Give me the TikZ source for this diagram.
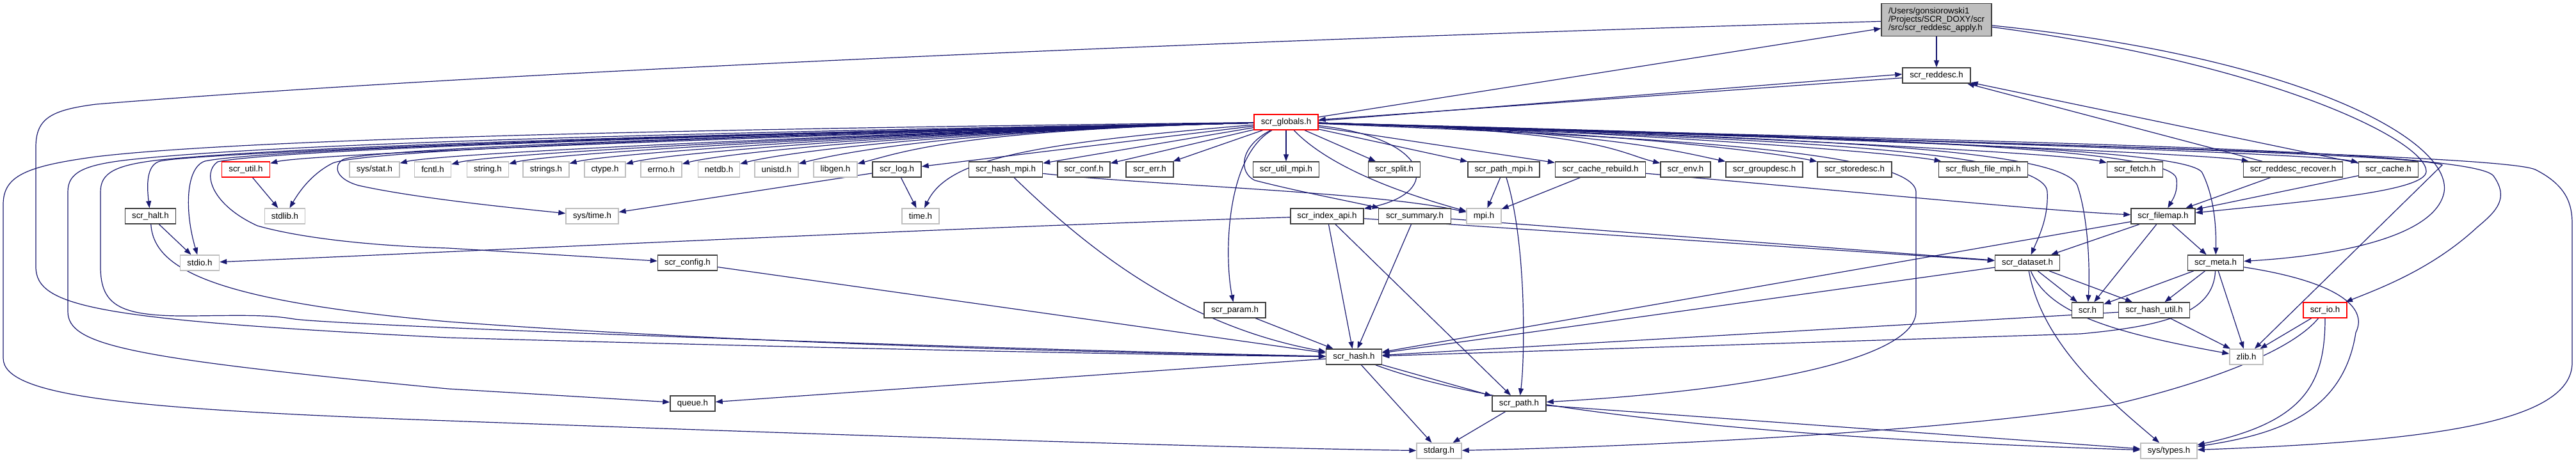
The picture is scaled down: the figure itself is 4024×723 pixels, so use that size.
\documentclass[tikz,border=0pt]{standalone}
\usepackage{fontspec}
\setmainfont{Liberation Sans}
\usetikzlibrary{arrows.meta}
\pgfdeclarelayer{bg}
\pgfsetlayers{bg,main}
\definecolor{edgecol}{HTML}{191970}
\definecolor{docb}{HTML}{404040}
\definecolor{extb}{HTML}{BFBFBF}
\definecolor{rootf}{HTML}{BFBFBF}
\newcommand\lblfont{\fontsize{13.3}{16}\selectfont}
\newcommand\rootlblfont{\fontsize{13.3}{13}\selectfont}
\begin{document}
\begin{tikzpicture}[x=1pt,y=-1pt,
  box/.style={draw=docb,fill=white,line width=1.4pt,inner sep=0pt,minimum height=24pt,font=\lblfont,text=black},
  ext/.style={box,draw=extb},
  trunc/.style={box,draw=red},
  dep/.style={draw=edgecol,line width=1.2pt,-{Triangle[length=11pt,width=8pt]}}]
\begin{pgfonlayer}{bg}
\useasboundingbox[fill=white] (0,0) rectangle (4024,723);
\end{pgfonlayer}
% ---- nodes ----
\node[box,fill=rootf,minimum width=172pt,minimum height=51pt,align=left,font=\rootlblfont] (root) at (3025,31) {/Users/gonsiorowski1\\/Projects/SCR\_DOXY/scr\\/src/scr\_reddesc\_apply.h};
\node[box,minimum width=106pt] (reddesc) at (3025,118) {scr\_reddesc.h};
\node[trunc,minimum width=100pt] (globals) at (2009,191) {scr\_globals.h};
% row 3
\node[trunc,minimum width=75pt] (util) at (384,265) {scr\_util.h};
\node[ext,minimum width=78pt] (sysstat) at (585,265) {sys/stat.h};
\node[ext,minimum width=57pt] (fcntl) at (676,265) {fcntl.h};
\node[ext,minimum width=65pt] (string) at (762,265) {string.h};
\node[ext,minimum width=72pt] (strings) at (853,265) {strings.h};
\node[ext,minimum width=64pt] (ctype) at (945,265) {ctype.h};
\node[ext,minimum width=64pt] (errno) at (1033,265) {errno.h};
\node[ext,minimum width=65pt] (netdb) at (1123,265) {netdb.h};
\node[ext,minimum width=68pt] (unistd) at (1213,265) {unistd.h};
\node[ext,minimum width=68pt] (libgen) at (1305,265) {libgen.h};
\node[box,minimum width=76pt] (log) at (1401,265) {scr\_log.h};
\node[box,minimum width=115pt] (hashmpi) at (1571,265) {scr\_hash\_mpi.h};
\node[box,minimum width=82pt] (conf) at (1693,265) {scr\_conf.h};
\node[box,minimum width=74pt] (err) at (1796,265) {scr\_err.h};
\node[box,minimum width=103pt] (utilmpi) at (2009,265) {scr\_util\_mpi.h};
\node[box,minimum width=81pt] (split) at (2178,265) {scr\_split.h};
\node[box,minimum width=112pt] (pathmpi) at (2349,265) {scr\_path\_mpi.h};
\node[box,minimum width=141pt] (rebuild) at (2500,265) {scr\_cache\_rebuild.h};
\node[box,minimum width=78pt] (env) at (2633,265) {scr\_env.h};
\node[box,minimum width=120pt] (groupdesc) at (2756,265) {scr\_groupdesc.h};
\node[box,minimum width=116pt] (storedesc) at (2897,265) {scr\_storedesc.h};
\node[box,minimum width=139pt] (flush) at (3098,265) {scr\_flush\_file\_mpi.h};
\node[box,minimum width=87pt] (fetch) at (3335,265) {scr\_fetch.h};
\node[box,minimum width=155pt] (recover) at (3582,265) {scr\_reddesc\_recover.h};
\node[box,minimum width=93pt] (cache) at (3731,265) {scr\_cache.h};
% row 4
\node[box,minimum width=79pt] (halt) at (235,338) {scr\_halt.h};
\node[ext,minimum width=63pt] (stdlib) at (445,338) {stdlib.h};
\node[ext,minimum width=82pt] (systime) at (925,338) {sys/time.h};
\node[ext,minimum width=58pt] (time) at (1438,338) {time.h};
\node[box,minimum width=114pt] (indexapi) at (2073,338) {scr\_index\_api.h};
\node[box,minimum width=113pt] (summary) at (2210,338) {scr\_summary.h};
\node[ext,minimum width=54pt] (mpi) at (2318,338) {mpi.h};
\node[box,minimum width=100pt] (filemap) at (3379,338) {scr\_filemap.h};
% row 5
\node[ext,minimum width=61pt] (stdio) at (312,411) {stdio.h};
\node[box,minimum width=93pt] (config) at (1074,411) {scr\_config.h};
\node[box,minimum width=101pt] (dataset) at (3167,411) {scr\_dataset.h};
\node[box,minimum width=87pt] (meta) at (3461,411) {scr\_meta.h};
% row 6
\node[box,minimum width=96pt] (param) at (1929,485) {scr\_param.h};
\node[box,minimum width=49pt] (scrh) at (3261,485) {scr.h};
\node[box,minimum width=111pt] (hashutil) at (3365,485) {scr\_hash\_util.h};
\node[trunc,minimum width=68pt] (io) at (3632,485) {scr\_io.h};
% row 7
\node[box,minimum width=87pt] (hash) at (2115,558) {scr\_hash.h};
\node[ext,minimum width=52pt] (zlib) at (3509,558) {zlib.h};
% row 8
\node[box,minimum width=70pt] (queue) at (1082,631) {queue.h};
\node[box,minimum width=84pt] (pth) at (2373,631) {scr\_path.h};
% row 9
\node[ext,minimum width=70pt] (stdarg) at (2248,705) {stdarg.h};
\node[ext,minimum width=88pt] (systypes) at (3388,705) {sys/types.h};
% ---- edges ----
\begin{pgfonlayer}{bg}
\draw[dep] (root) -- (reddesc);
\draw[dep] (globals) -- (root);
\draw[dep] (reddesc) -- (globals);
\draw[dep] ([yshift=2pt]globals.east) -- ([yshift=2pt]reddesc.west);
\draw[dep] (root) .. controls (2000,60) and (800,110) .. (150,163) .. controls (80,172) and (56,185) .. (56,230) -- (56,417) .. controls (56,480) and (150,500) .. (700,528) .. controls (1300,545) and (1800,555) .. (hash);
\foreach \t/\c in {util/491,sysstat/694,fcntl/774,string/864,strings/959,ctype/1047,errno/1135,netdb/1225,unistd/1317,libgen/1409}
  \draw[dep] (globals) .. controls (1500,203) and (\c,238) .. (\t);
\foreach \t in {log,hashmpi,conf,err,utilmpi,split,pathmpi,rebuild}
  \draw[dep] (globals) -- (\t);
\foreach \t/\c in {env/2524,groupdesc/2626,storedesc/2769,flush/2959,fetch/3222,recover/3435,cache/3615}
  \draw[dep] (globals) .. controls (2500,203) and (\c,238) .. (\t);
\draw[dep] (globals) .. controls (1200,200) and (400,215) .. (150,245) .. controls (40,260) and (5,275) .. (5,320) -- (5,560) .. controls (5,620) and (200,640) .. (700,658) .. controls (1300,680) and (1900,700) .. (stdarg);
\draw[dep] (globals) .. controls (1200,205) and (450,222) .. (200,250) .. controls (130,258) and (106,270) .. (106,300) -- (106,487) .. controls (106,540) and (200,560) .. (700,608) -- (queue);
\draw[dep] (globals) .. controls (1200,208) and (500,225) .. (250,250) .. controls (180,258) and (157,270) .. (157,300) -- (157,417) .. controls (157,480) and (190,495) .. (300,494) .. controls (380,493) and (420,492) .. (460,499) .. controls (550,510) and (1500,545) .. (hash);
\draw[dep] (halt) .. controls (240,420) and (330,470) .. (700,503) .. controls (1200,540) and (1800,553) .. (hash);
\draw[dep] (globals) .. controls (1000,210) and (300,240) .. (250,252) .. controls (232,257) and (228,280) .. (halt);
\draw[dep] (halt) -- (stdio);
\draw[dep] (globals) .. controls (1000,212) and (400,235) .. (320,252) .. controls (290,262) and (288,330) .. (stdio);
\draw[dep] (globals) .. controls (1000,213) and (420,236) .. (340,253) .. controls (315,270) and (330,320) .. (402,353) .. controls (480,375) and (600,385) .. (700,388) -- (config);
\draw[dep] (util) -- (stdlib);
\draw[dep] (globals) .. controls (1000,215) and (560,238) .. (520,255) .. controls (490,270) and (470,295) .. (stdlib);
\draw[dep] (globals) .. controls (1000,215) and (560,235) .. (535,250) .. controls (520,260) and (525,280) .. (560,290) .. controls (650,310) and (800,325) .. (systime);
\draw[dep] (log) -- (systime);
\draw[dep] (log) -- (time);
\draw[dep] (globals) .. controls (1600,225) and (1480,250) .. (time);
\draw[dep] (hashmpi) .. controls (1800,290) and (2150,300) .. (mpi);
\draw[dep] (hashmpi) .. controls (1700,390) and (1850,510) .. (hash);
\draw[dep] (globals) .. controls (1935,230) and (1935,270) .. (1960,282) .. controls (2030,300) and (2110,315) .. (summary);
\draw[dep] (globals) .. controls (1915,245) and (1912,400) .. (param);
\draw[dep] (globals) .. controls (2230,215) and (2260,300) .. (indexapi);
\draw[dep] (globals) .. controls (2080,265) and (2200,305) .. (mpi);
\draw[dep] (pathmpi) -- (mpi);
\draw[dep] (pathmpi) .. controls (2385,380) and (2382,560) .. (pth);
\draw[dep] (rebuild) -- (mpi);
\draw[dep] (rebuild) .. controls (2900,300) and (3200,330) .. (filemap);
\draw[dep] (indexapi) .. controls (1500,355) and (800,390) .. (stdio);
\draw[dep] (indexapi) -- (hash);
\draw[dep] (indexapi) -- (pth);
\draw[dep] (summary) -- (hash);
\draw[dep] (indexapi) -- (dataset);
\draw[dep] (summary) -- (dataset);
\draw[dep] (config) -- (hash);
\draw[dep] (param) -- (hash);
\draw[dep] (hash) -- (queue);
\draw[dep] (hash) -- (pth);
\draw[dep] (hash) -- (stdarg);
\draw[dep] (hash) .. controls (2280,620) and (2600,680) .. (systypes);
\draw[dep] (pth) -- (stdarg);
\draw[dep] (pth) -- (systypes);
\draw[dep] (globals) .. controls (2500,212) and (2990,230) .. (2993,300) -- (2993,487) .. controls (2993,560) and (2750,610) .. (pth);
\draw[dep] (globals) .. controls (2700,215) and (3195,230) .. (3198,300) .. controls (3200,340) and (3185,370) .. (dataset);
\draw[dep] (globals) .. controls (2800,215) and (3220,230) .. (3245,290) .. controls (3262,340) and (3265,420) .. (scrh);
\draw[dep] (globals) .. controls (3000,215) and (3395,235) .. (3400,280) .. controls (3402,300) and (3395,310) .. (filemap);
\draw[dep] (globals) .. controls (3000,218) and (3420,235) .. (3440,270) .. controls (3460,310) and (3462,360) .. (meta);
\draw[dep] (globals) .. controls (3000,220) and (3860,230) .. (3895,275) .. controls (3920,310) and (3900,330) .. (3870,355) .. controls (3800,420) and (3720,450) .. (io);
\draw[dep] (globals) .. controls (3000,222) and (3900,240) .. (3960,265) .. controls (4010,290) and (4018,320) .. (4018,350) -- (4018,567) .. controls (4018,660) and (3800,690) .. (systypes);
\draw[dep] (globals) .. controls (3000,220) and (3780,240) .. (3815,258) -- (zlib);
\draw[dep] (root) .. controls (3600,90) and (3830,220) .. (3818,300) .. controls (3805,370) and (3650,400) .. (meta);
\draw[dep] (root) .. controls (3550,100) and (3790,220) .. (3790,268) .. controls (3790,300) and (3600,315) .. (filemap);
\draw[dep] (recover) -- (reddesc);
\draw[dep] (cache) -- (reddesc);
\draw[dep] (recover) -- (filemap);
\draw[dep] (cache) -- (filemap);
\draw[dep] (filemap) -- (hash);
\draw[dep] (filemap) -- (dataset);
\draw[dep] (filemap) -- (scrh);
\draw[dep] (filemap) -- (meta);
\draw[dep] (dataset) -- (hash);
\draw[dep] (dataset) -- (scrh);
\draw[dep] (dataset) -- (hashutil);
\draw[dep] (dataset) .. controls (3200,490) and (3300,520) .. (zlib);
\draw[dep] (dataset) .. controls (3190,540) and (3300,630) .. (systypes);
\draw[dep] (meta) -- (scrh);
\draw[dep] (meta) -- (hashutil);
\draw[dep] (meta) -- (zlib);
\draw[dep] (meta) .. controls (3458,490) and (3380,510) .. (3250,522) -- (hash);
\draw[dep] (meta) .. controls (3650,440) and (3700,480) .. (3680,520) .. controls (3660,650) and (3550,680) .. (systypes);
\draw[dep] (hashutil) -- (hash);
\draw[dep] (hashutil) -- (zlib);
\draw[dep] (io) -- (zlib);
\draw[dep] (io) .. controls (3570,560) and (3400,610) .. (3300,633) .. controls (3000,680) and (2500,700) .. (stdarg);
\draw[dep] (io) .. controls (3632,600) and (3600,660) .. (systypes);
\end{pgfonlayer}
\end{tikzpicture}
\end{document}
